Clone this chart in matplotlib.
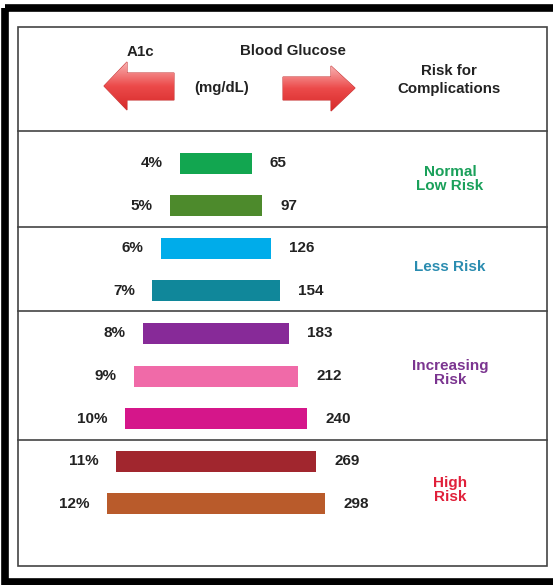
import numpy as np
import matplotlib
matplotlib.use("Agg")
import matplotlib.pyplot as plt
from matplotlib.patches import Rectangle, Polygon
from matplotlib.colors import LinearSegmentedColormap

plt.rcParams['font.family'] = ['Liberation Sans', 'DejaVu Sans']
plt.rcParams['font.weight'] = 'bold'

# data
a1c_labels = ["4%", "5%", "6%", "7%", "8%", "9%", "10%", "11%", "12%"]
glucose = [65, 97, 126, 154, 183, 212, 240, 269, 298]
bar_colors = ["#12a650", "#4d8a2c", "#00acea", "#10879a", "#872a98",
              "#f06aa8", "#d5168a", "#a1262e", "#b95b2b"]

risk_labels = ["Normal\nLow Risk", "Less Risk", "Increasing\nRisk", "High\nRisk"]
risk_colors = ["#1aa05a", "#2a8cb0", "#7b3590", "#e0203a"]
risk_y = [179, 267, 373, 490]
section_lines = [131, 227, 311, 440]

fig = plt.figure(figsize=(5.53, 5.85), dpi=100)
ax = fig.add_axes([0, 0, 1, 1])

# frames
ax.add_patch(Rectangle((4.5, 8), 570, 574, fill=False, edgecolor="black", lw=5.5))
ax.add_patch(Rectangle((18, 27), 529, 539, fill=False, edgecolor="#444444", lw=1.2))
for yl in section_lines:
    ax.plot([18, 547], [yl, yl], color="#444444", lw=1.2)

# bars centered on one column, width grows with glucose value
center = 216
rows = 163 + 42.6 * np.arange(len(glucose))
widths = 0.63 * np.array(glucose) + 31
lefts = center - widths / 2
ax.barh(rows, widths, left=lefts, height=21, color=bar_colors)

for y, l, w, pct, g in zip(rows, lefts, widths, a1c_labels, glucose):
    ax.text(l - 17, y, pct, ha="right", va="center", fontsize=11, color="#222222")
    ax.text(l + w + 18, y, str(g), ha="left", va="center", fontsize=11, color="#222222")

for lab, c, y in zip(risk_labels, risk_colors, risk_y):
    ax.text(450, y, lab, ha="center", va="center", fontsize=11, color=c,
            linespacing=1.0)

# header
ax.text(140, 52, "A1c", ha="center", va="center", fontsize=10.8, color="#222222")
ax.text(293, 51, "Blood Glucose", ha="center", va="center", fontsize=10.8, color="#222222")
ax.text(222, 88, "(mg/dL)", ha="center", va="center", fontsize=10.8, color="#222222")
ax.text(449, 80, "Risk for\nComplications", ha="center", va="center", fontsize=10.8,
        color="#222222", linespacing=1.4)

# red arrows with a top-to-bottom gradient
arrow_cmap = LinearSegmentedColormap.from_list("arr", ["#f8b0b0", "#ec4a4a", "#d62a2a"])
grad = np.linspace(0, 1, 60).reshape(-1, 1)
left_arrow = [(104, 86), (127, 62), (127, 73), (174, 73), (174, 100), (127, 100), (127, 110)]
right_arrow = [(355, 88), (331, 66), (331, 77), (283, 77), (283, 100), (331, 100), (331, 111)]
for pts in (left_arrow, right_arrow):
    poly = Polygon(pts, closed=True, facecolor="none", edgecolor="#c83a3a", lw=0.8)
    ax.add_patch(poly)
    xs = [p[0] for p in pts]
    ys = [p[1] for p in pts]
    im = ax.imshow(grad, cmap=arrow_cmap, extent=(min(xs), max(xs), max(ys), min(ys)),
                   aspect="auto", origin="upper", zorder=1)
    im.set_clip_path(poly)

ax.set_xlim(0, 553)
ax.set_ylim(585, 0)
ax.axis("off")

fig.savefig("out.png", dpi=100)
